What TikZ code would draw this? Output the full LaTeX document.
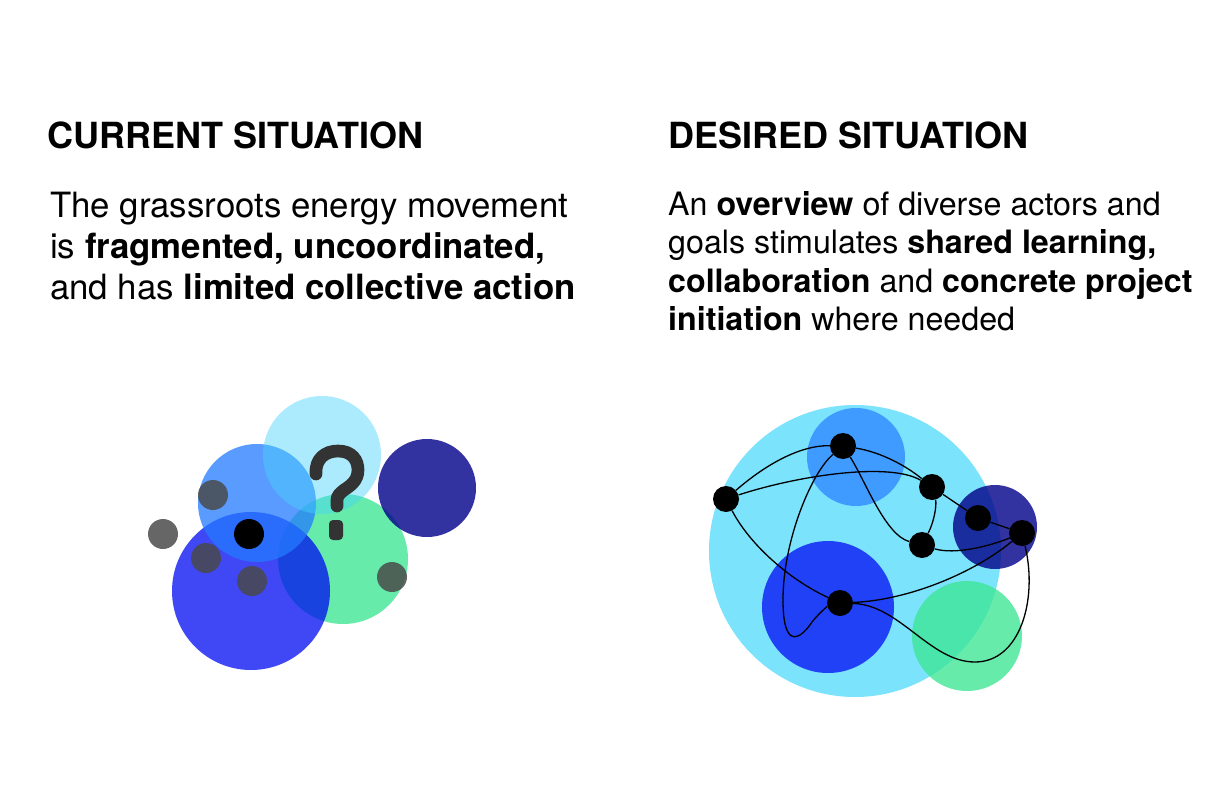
\documentclass[tikz,border=0pt]{standalone}
\usepackage{fontspec}
\setmainfont{TeX Gyre Heros}
\begin{document}
\begin{tikzpicture}[x=1pt,y=-1pt,
  title/.style={anchor=base west,inner sep=0,font=\fontsize{36}{42}\selectfont\bfseries},
  bodyl/.style={anchor=base west,inner sep=0,font=\fontsize{34.8}{41}\selectfont},
  bodyr/.style={anchor=base west,inner sep=0,font=\fontsize{32.2}{38}\selectfont},
  grey/.style={circle,inner sep=0,minimum size=30pt,fill={rgb,255:red,73;green,73;blue,73},fill opacity=0.84},
  blk/.style={circle,inner sep=0,minimum size=30pt,fill=black},
  actor/.style={circle,inner sep=0,minimum size=26pt,fill=black},
  link/.style={line width=1.3pt,black}]
\definecolor{cgreen}{RGB}{60,230,147}
\definecolor{cbig}{RGB}{0,12,242}
\definecolor{cmed}{RGB}{35,122,255}
\definecolor{clcyan}{RGB}{73,211,251}
\definecolor{cnavy}{RGB}{3,3,138}
\definecolor{rcyan}{RGB}{123,227,252}
\definecolor{rmed}{RGB}{63,155,255}
\definecolor{rbig}{RGB}{32,65,245}
\definecolor{qgray}{RGB}{51,51,51}
\useasboundingbox (0,0) rectangle (1224,792);
\fill[white] (0,0) rectangle (1224,792);

% texts
\node[title] (t1) at (47,148) {CURRENT SITUATION};
\node[bodyl] (l1) at (50,217) {The grassroots energy movement};
\node[bodyl] (l2) at (50,258) {is \textbf{fragmented, uncoordinated,}};
\node[bodyl] (l3) at (50,299) {and has \textbf{limited collective action}};
\node[title] (t2) at (668,148) {DESIRED SITUATION};
\node[bodyr] (r1) at (668,215) {An \textbf{overview} of diverse actors and};
\node[bodyr] (r2) at (668,253.5) {goals stimulates \textbf{shared learning,}};
\node[bodyr] (r3) at (668,292) {\textbf{collaboration} and \textbf{concrete project}};
\node[bodyr] (r4) at (668,330.5) {\textbf{initiation} where needed};

% left cluster
\fill[cgreen,fill opacity=0.78] (343,559) circle (65);
\fill[cbig,fill opacity=0.75] (251,591) circle (79);
\fill[cmed,fill opacity=0.75] (257,503) circle (59);
\fill[clcyan,fill opacity=0.45] (322,455) circle (59);
\fill[cnavy,fill opacity=0.81] (427,488) circle (49);
\node[grey] (g1) at (213,495) {};
\node[grey] (g2) at (163,534) {};
\node[grey] (g3) at (206,558) {};
\node[grey] (g4) at (252,581) {};
\node[grey] (g5) at (392,577) {};
\node[blk] (k1) at (249,534) {};
\draw[qgray,line width=12.7pt,line cap=round]
  (316,474) .. controls (315,459) and (325,451) .. (338,451)
  .. controls (352,451) and (358,460) .. (358,470)
  .. controls (358,481) and (350,486) .. (344,490)
  .. controls (340,493) and (337,496) .. (337,500) -- (337,506);
\fill[qgray,rounded corners=4pt] (329,520) rectangle (343,540);

% right cluster
\fill[rcyan] (855,551) circle (146);
\fill[rmed] (856,457) circle (49);
\fill[rbig] (828,607) circle (66);
\fill[cnavy,fill opacity=0.81] (995,527) circle (42);
\fill[cgreen,fill opacity=0.78] (967,636) circle (55);

\node[actor] (A) at (726,499) {};
\node[actor] (B) at (843,446) {};
\node[actor] (C) at (932,487) {};
\node[actor] (D) at (978,518) {};
\node[actor] (E) at (1022,533) {};
\node[actor] (F) at (922,545) {};
\node[actor] (G) at (840,603) {};

\draw[link] (A) .. controls (765,465) and (800,445) .. (B);
\draw[link] (A) .. controls (800,475) and (890,462) .. (C);
\draw[link] (A) .. controls (750,545) and (790,580) .. (G);
\draw[link] (B) .. controls (880,452) and (905,465) .. (C);
\draw[link] (B) .. controls (865,480) and (885,535) .. (F);
\draw[link] (B) .. controls (812,472) and (783,540) .. (783,600)
  .. controls (783,650) and (800,640) .. (812,622)
  .. controls (820,612) and (828,606) .. (G);
\draw[link] (C) .. controls (937,505) and (934,522) .. (F);
\draw[link] (C) -- (D);
\draw[link] (D) -- (E);
\draw[link] (F) .. controls (955,555) and (990,546) .. (E);
\draw[link] (G) .. controls (910,600) and (975,572) .. (E);
\draw[link] (G) .. controls (900,605) and (930,662) .. (975,662)
  .. controls (1020,662) and (1038,600) .. (E);
\end{tikzpicture}
\end{document}
